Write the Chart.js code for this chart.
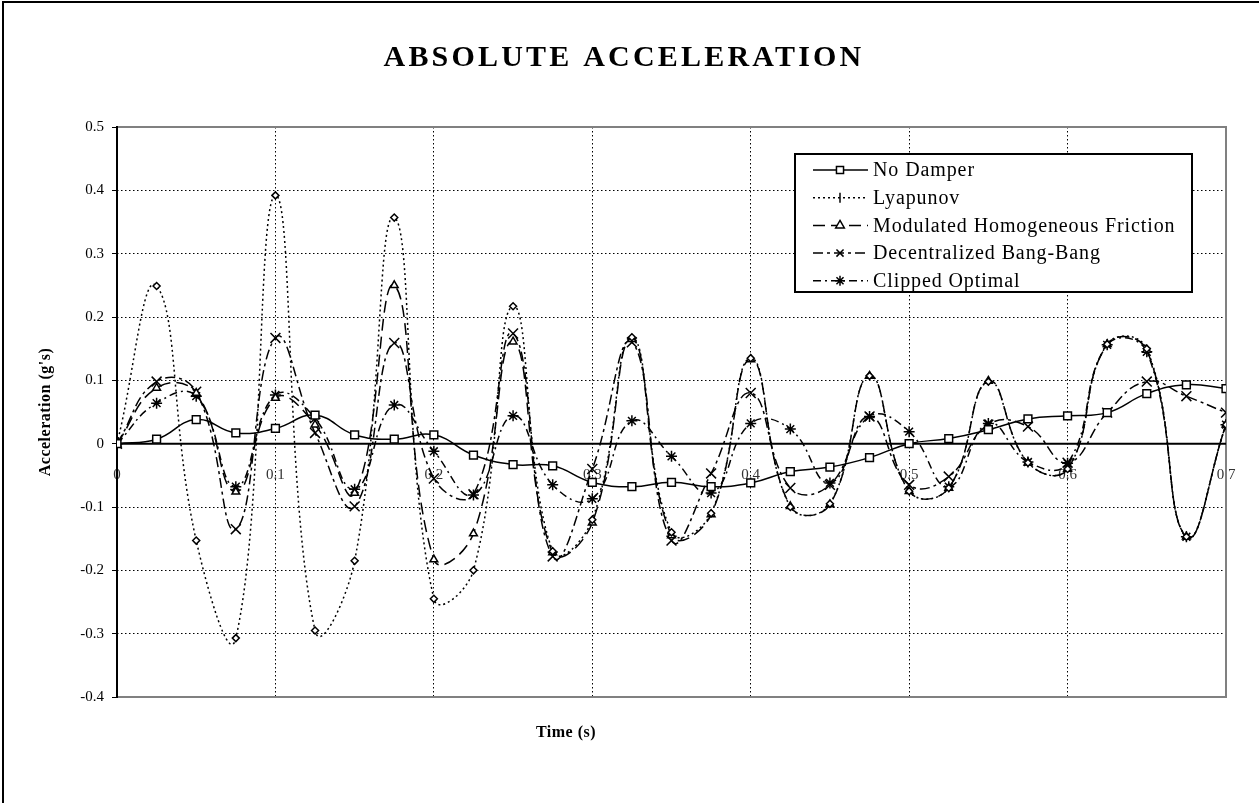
<!DOCTYPE html>
<html><head><meta charset="utf-8">
<script src="https://cdn.jsdelivr.net/npm/chart.js@4.4.0/dist/chart.umd.min.js"></script>
<style>html,body{margin:0;padding:0;background:#fff;} #wrap{position:relative;width:1259px;height:803px;}</style>
</head><body><div id="wrap"><canvas id="c"></canvas></div>
<script>
// ---- data ----
const times = [0,0.025,0.05,0.075,0.1,0.125,0.15,0.175,0.2,0.225,0.25,0.275,0.3,0.325,0.35,0.375,0.4,0.425,0.45,0.475,0.5,0.525,0.55,0.575,0.6,0.625,0.65,0.675,0.7];
const noDamper = [0,0.007,0.038,0.017,0.024,0.045,0.014,0.007,0.014,-0.018,-0.033,-0.035,-0.061,-0.068,-0.061,-0.068,-0.062,-0.044,-0.037,-0.022,0,0.008,0.022,0.039,0.044,0.049,0.079,0.093,0.087];
const lyapunov = [0,0.249,-0.153,-0.307,0.392,-0.295,-0.185,0.357,-0.245,-0.2,0.217,-0.17,-0.12,0.168,-0.14,-0.11,0.135,-0.1,-0.095,0.107,-0.075,-0.07,0.098,-0.03,-0.04,0.157,0.15,-0.147,0.03];
const modulatedFriction = [0,0.088,0.08,-0.076,0.072,0.03,-0.078,0.25,-0.183,-0.142,0.161,-0.172,-0.125,0.165,-0.145,-0.112,0.133,-0.099,-0.096,0.107,-0.075,-0.07,0.099,-0.03,-0.04,0.157,0.148,-0.147,0.03];
const bangBang = [0,0.098,0.082,-0.135,0.167,0.017,-0.099,0.159,-0.055,-0.08,0.174,-0.178,-0.04,0.16,-0.153,-0.047,0.08,-0.07,-0.065,0.043,-0.065,-0.052,0.03,0.027,-0.03,0.049,0.098,0.075,0.049];
const clippedOptimal = [0,0.064,0.075,-0.068,0.077,0.04,-0.072,0.061,-0.012,-0.081,0.044,-0.065,-0.087,0.036,-0.02,-0.078,0.032,0.023,-0.062,0.043,0.019,-0.068,0.032,-0.029,-0.031,0.156,0.145,-0.147,0.03];
const seriesNames = ['No Damper','Lyapunov','Modulated Homogeneous Friction','Decentralized Bang-Bang','Clipped Optimal'];
const xTickLabels = ['0','0.1','0.2','0.3','0.4','0.5','0.6','0.7'];
const yTickLabels = ['-0.4','-0.3','-0.2','-0.1','0','0.1','0.2','0.3','0.4','0.5'];
const chartTitle = 'ABSOLUTE ACCELERATION';
const xTitle = 'Time (s)';
const yTitle = "Acceleration (g's)";

// ---- styles ----
const seriesValues = [noDamper, lyapunov, modulatedFriction, bangBang, clippedOptimal];
const styles = [
  {dash:[], pointStyle:'rect', radius:5.5, legendStyle:'rect', legendRot:0},
  {dash:[2,3], pointStyle:'rectRot', radius:3.5, legendStyle:'line', legendRot:90},
  {dash:[12,6], pointStyle:'triangle', radius:4.5, legendStyle:'triangle', legendRot:0},
  {dash:[10,4,3,4], pointStyle:'crossRot', radius:7, legendStyle:'crossRot', legendRot:0},
  {dash:[8,4,2,4], pointStyle:'star', radius:5.5, legendStyle:'star', legendRot:0}
];
const SERIF = '"Liberation Serif", "Times New Roman", serif';
const GRID_DASH = [1.5, 2.5];

const datasets = seriesValues.map((vals, i) => ({
  label: seriesNames[i],
  data: times.map((t, k) => ({x: t, y: vals[k]})),
  borderColor: '#000',
  borderWidth: 1.5,
  borderDash: styles[i].dash,
  pointStyle: styles[i].pointStyle,
  pointRadius: styles[i].radius,
  pointBorderWidth: 1.5,
  pointBorderColor: '#000',
  pointBackgroundColor: '#fff',
  tension: 0.45,
  fill: false
}));

const decorPlugin = {
  id: 'decor',
  beforeDraw(chart) {
    const ctx = chart.ctx;
    ctx.save();
    ctx.fillStyle = '#fff';
    ctx.fillRect(0, 0, chart.width, chart.height);
    ctx.restore();
  },
  beforeDatasetsDraw(chart) {
    const ctx = chart.ctx;
    const {left, top, right, bottom} = chart.chartArea;
    const y0 = chart.scales.y.getPixelForValue(0);
    ctx.save();
    ctx.setLineDash([]);
    ctx.strokeStyle = '#808080';
    ctx.lineWidth = 2;
    ctx.strokeRect(left, top, right - left, bottom - top);
    ctx.strokeStyle = '#000';
    ctx.beginPath();
    ctx.moveTo(left, top - 1); ctx.lineTo(left, bottom + 1);
    ctx.moveTo(left, y0); ctx.lineTo(right, y0);
    ctx.stroke();
    ctx.restore();
  },
  afterDraw(chart) {
    const ctx = chart.ctx;
    const {left, top, right, bottom} = chart.chartArea;
    ctx.save();
    // outer frame
    ctx.strokeStyle = '#000';
    ctx.lineWidth = 2;
    ctx.beginPath();
    ctx.moveTo(3, 900); ctx.lineTo(3, 2); ctx.lineTo(1400, 2);
    ctx.stroke();
    // title
    ctx.fillStyle = '#000';
    ctx.textAlign = 'center';
    ctx.textBaseline = 'middle';
    ctx.font = 'bold 30px ' + SERIF;
    ctx.letterSpacing = '3.2px';
    ctx.fillText(chartTitle, 624, 58);
    // axis titles
    ctx.font = 'bold 16px ' + SERIF;
    ctx.letterSpacing = '0.5px';
    ctx.fillText(xTitle, 566, 733);
    ctx.save();
    ctx.translate(46, (top + bottom) / 2);
    ctx.rotate(-Math.PI / 2);
    ctx.fillText(yTitle, 0, 0);
    ctx.restore();
    // legend
    const lx = 795, ly = 154, lw = 397, lh = 138;
    ctx.fillStyle = '#fff';
    ctx.fillRect(lx, ly, lw, lh);
    ctx.strokeStyle = '#000';
    ctx.lineWidth = 2;
    ctx.strokeRect(lx, ly, lw, lh);
    ctx.font = '20px ' + SERIF;
    ctx.letterSpacing = '0.9px';
    ctx.textAlign = 'left';
    for (let i = 0; i < seriesNames.length; i++) {
      const y = 170 + i * 27.7;
      ctx.strokeStyle = '#000';
      ctx.lineWidth = 1.5;
      ctx.setLineDash(styles[i].dash);
      ctx.beginPath();
      ctx.moveTo(813, y); ctx.lineTo(868, y);
      ctx.stroke();
      ctx.setLineDash([]);
      ctx.fillStyle = '#fff';
      ctx.lineWidth = 1.5;
      Chart.helpers.drawPoint(ctx, {pointStyle: styles[i].legendStyle, rotation: styles[i].legendRot, radius: styles[i].legendStyle === 'rect' ? 5 : 5, borderWidth: 1.5}, 840, y);
      ctx.fillStyle = '#000';
      ctx.fillText(seriesNames[i], 873, y + 1);
    }
    ctx.restore();
  }
};

new Chart(document.getElementById('c'), {
  type: 'line',
  data: {datasets},
  plugins: [decorPlugin],
  options: {
    responsive: true,
    maintainAspectRatio: false,
    animation: false,
    layout: {padding: {left: 77, right: 33, top: 127, bottom: 106}},
    plugins: {legend: {display: false}, title: {display: false}, tooltip: {enabled: false}},
    scales: {
      x: {
        type: 'linear',
        position: {y: 0},
        min: 0, max: 0.7,
        ticks: {
          stepSize: 0.1,
          padding: 22,
          color: '#333',
          font: {family: SERIF, size: 15},
          callback: (v, i) => xTickLabels[i]
        },
        grid: {color: '#000', lineWidth: 1, drawTicks: false},
        border: {display: false, dash: GRID_DASH}
      },
      y: {
        min: -0.4, max: 0.5,
        afterFit: s => { s.width = 40; },
        ticks: {
          stepSize: 0.1,
          padding: 8,
          color: '#000',
          font: {family: SERIF, size: 15},
          callback: (v, i) => yTickLabels[i]
        },
        grid: {color: '#000', lineWidth: 1, drawTicks: true, tickLength: 5, tickColor: '#000', tickBorderDash: [1, 0]},
        border: {display: false, dash: GRID_DASH}
      }
    }
  }
});
</script>
</body></html>
